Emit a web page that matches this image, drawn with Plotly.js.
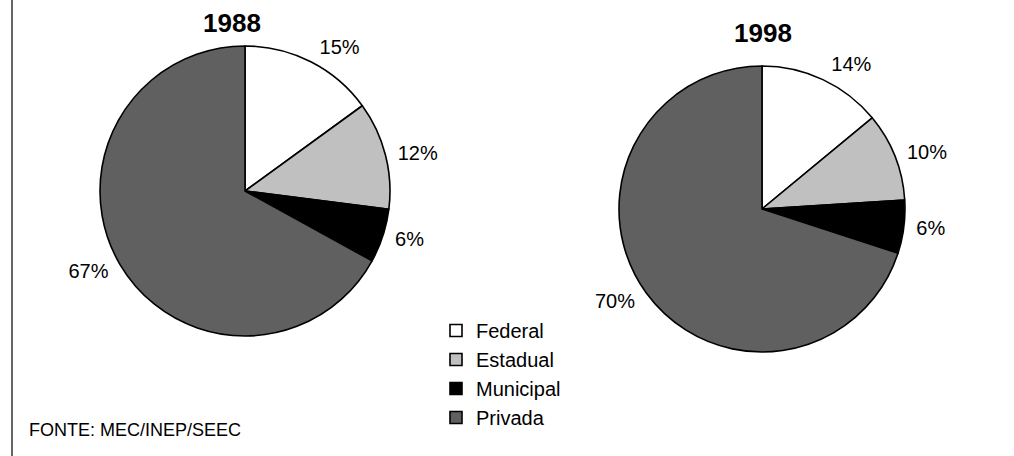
<!DOCTYPE html>
<html><head><meta charset="utf-8">
<script src="https://cdn.plot.ly/plotly-3.0.1.min.js"></script>
<style>html,body{margin:0;padding:0;background:#fff}#chart{width:1014px;height:456px}</style>
</head><body><div id="chart"></div>
<script>
const categories = ['Federal', 'Estadual', 'Municipal', 'Privada'];
const values1988 = [15, 12, 6, 67];
const values1998 = [14, 10, 6, 70];
const years = ['1988', '1998'];
const sourceText = 'FONTE: MEC/INEP/SEEC';
const colors = ['#ffffff', '#c0c0c0', '#000000', '#606060'];
const W = 1014, H = 456;
const FONT = 'Liberation Sans, Arial, sans-serif';
function px(x){return x/W;} function py(y){return 1-y/H;}
function dom(cx, cy, r){return {x:[px(cx-r), px(cx+r)], y:[py(cy+r), py(cy-r)]};}

// slices
function pie(vals, cx, cy, r, show){
  return {
    type:'pie', labels:categories, values:vals, sort:false, direction:'clockwise', rotation:0,
    marker:{colors:colors, line:{color:'#000', width:1.6}},
    textposition:'none', domain:dom(cx, cy, r), showlegend:show, hoverinfo:'label+value'
  };
}
// label ring (transparent, slightly larger) so the percentage labels sit a bit further out
function labelRing(vals, cx, cy, r){
  return {
    type:'pie', labels:categories, values:vals, sort:false, direction:'clockwise', rotation:0,
    marker:{colors:categories.map(()=> 'rgba(0,0,0,0)'), line:{width:0}},
    textposition:'outside', texttemplate:'%{value}%', textfont:{family:FONT, size:20, color:'#000'},
    domain:dom(cx, cy, r), showlegend:false, hoverinfo:'skip'
  };
}
const data = [
  labelRing(values1988, 245, 191, 152),
  labelRing(values1998, 762, 209, 150),
  pie(values1988, 245, 191, 145, true),
  pie(values1998, 762, 209, 143, false)
];
const layout = {
  width:W, height:H, margin:{l:0,r:0,t:0,b:0}, paper_bgcolor:'#fff',
  font:{family:FONT, color:'#000'},
  legend:{x:px(436), y:py(311), xanchor:'left', yanchor:'top', font:{size:20, color:'#000'}, bgcolor:'rgba(0,0,0,0)', itemwidth:30, traceorder:'normal'},
  annotations:[
    {text:'<b>'+years[0]+'</b>', x:px(232), y:py(23), xref:'paper', yref:'paper', xanchor:'center', yanchor:'middle', showarrow:false, font:{size:26}},
    {text:'<b>'+years[1]+'</b>', x:px(763), y:py(33), xref:'paper', yref:'paper', xanchor:'center', yanchor:'middle', showarrow:false, font:{size:26}},
    {text:sourceText, x:px(27), y:py(430), xref:'paper', yref:'paper', xanchor:'left', yanchor:'middle', showarrow:false, font:{size:18}}
  ],
  shapes:[{type:'line', xref:'paper', yref:'paper', x0:px(12), x1:px(12), y0:0, y1:1, line:{color:'#333', width:1.5}}]
};
Plotly.newPlot('chart', data, layout, {staticPlot:true});
</script></body></html>
